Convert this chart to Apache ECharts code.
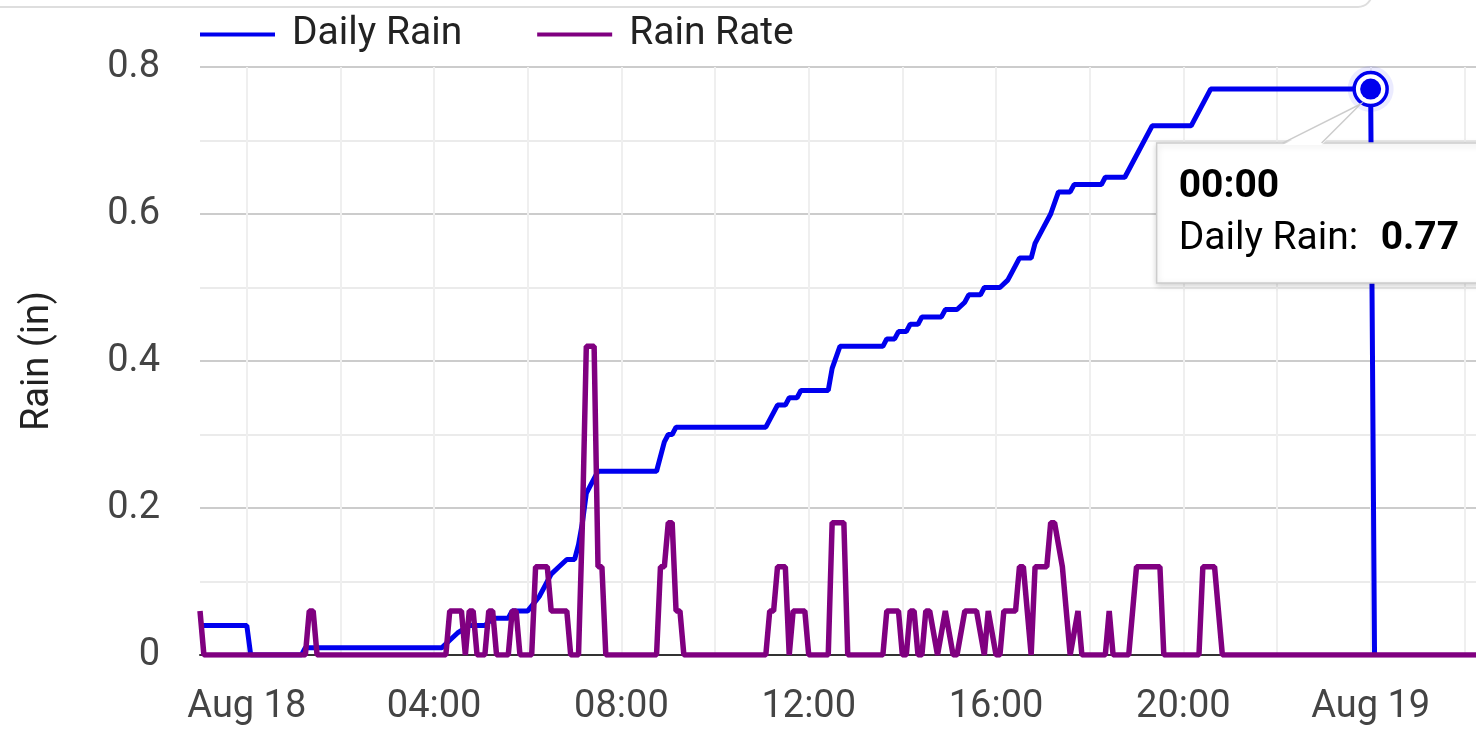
<!DOCTYPE html>
<html><head><meta charset="utf-8">
<script src="https://cdn.jsdelivr.net/npm/echarts@6/dist/echarts.min.js"></script>
<style>html,body{margin:0;padding:0;background:#fff}#c{width:1476px;height:732px}</style>
</head><body><div id="c"></div>
<script>
const monthNames = ['Jan','Feb','Mar','Apr','May','Jun','Jul','Aug','Sep','Oct','Nov','Dec'];
const seriesNames = ['Daily Rain', 'Rain Rate'];
const axisRange = ['2024-08-17 23:00', '2024-08-19 02:15'];

const dailyRainTimes = [
  '2024-08-17 23:00','2024-08-18 00:00','2024-08-18 00:05','2024-08-18 01:10','2024-08-18 01:15',
  '2024-08-18 04:10','2024-08-18 04:20','2024-08-18 04:30','2024-08-18 04:45','2024-08-18 05:05',
  '2024-08-18 05:15','2024-08-18 05:35','2024-08-18 05:40','2024-08-18 06:00','2024-08-18 06:15',
  '2024-08-18 06:25','2024-08-18 06:30','2024-08-18 06:40','2024-08-18 06:50','2024-08-18 07:00',
  '2024-08-18 07:05','2024-08-18 07:10','2024-08-18 07:15','2024-08-18 07:20','2024-08-18 07:30',
  '2024-08-18 08:45','2024-08-18 08:55','2024-08-18 09:00','2024-08-18 09:05','2024-08-18 09:10',
  '2024-08-18 11:05','2024-08-18 11:20','2024-08-18 11:30','2024-08-18 11:35','2024-08-18 11:45',
  '2024-08-18 11:50','2024-08-18 12:25','2024-08-18 12:30','2024-08-18 12:40','2024-08-18 13:35',
  '2024-08-18 13:40','2024-08-18 13:50','2024-08-18 13:55','2024-08-18 14:05','2024-08-18 14:10',
  '2024-08-18 14:20','2024-08-18 14:25','2024-08-18 14:50','2024-08-18 14:55','2024-08-18 15:10',
  '2024-08-18 15:20','2024-08-18 15:25','2024-08-18 15:40','2024-08-18 15:45','2024-08-18 16:05',
  '2024-08-18 16:15','2024-08-18 16:20','2024-08-18 16:30','2024-08-18 16:45','2024-08-18 16:50',
  '2024-08-18 17:00','2024-08-18 17:10','2024-08-18 17:20','2024-08-18 17:35','2024-08-18 17:40',
  '2024-08-18 18:15','2024-08-18 18:20','2024-08-18 18:45','2024-08-18 19:20','2024-08-18 20:10',
  '2024-08-18 20:35','2024-08-19 00:00','2024-08-19 00:05'
];
const dailyRainValues = [
  0.04,0.04,0,0,0.01,
  0.01,0.02,0.03,0.04,0.04,
  0.05,0.05,0.06,0.06,0.08,
  0.10,0.11,0.12,0.13,0.13,
  0.15,0.18,0.22,0.23,0.25,
  0.25,0.29,0.30,0.30,0.31,
  0.31,0.34,0.34,0.35,0.35,
  0.36,0.36,0.39,0.42,0.42,
  0.43,0.43,0.44,0.44,0.45,
  0.45,0.46,0.46,0.47,0.47,
  0.48,0.49,0.49,0.50,0.50,
  0.51,0.52,0.54,0.54,0.56,
  0.58,0.60,0.63,0.63,0.64,
  0.64,0.65,0.65,0.72,0.72,
  0.77,0.77,0
];

const rainRateTimes = [
  '2024-08-17 23:00','2024-08-17 23:05','2024-08-18 01:15','2024-08-18 01:20','2024-08-18 01:25','2024-08-18 01:30',
  '2024-08-18 04:15','2024-08-18 04:20','2024-08-18 04:35','2024-08-18 04:40','2024-08-18 04:45','2024-08-18 04:50',
  '2024-08-18 04:55','2024-08-18 05:05','2024-08-18 05:10','2024-08-18 05:15','2024-08-18 05:20','2024-08-18 05:35',
  '2024-08-18 05:40','2024-08-18 05:45','2024-08-18 05:50','2024-08-18 06:05','2024-08-18 06:10','2024-08-18 06:25',
  '2024-08-18 06:30','2024-08-18 06:50','2024-08-18 06:55','2024-08-18 07:05','2024-08-18 07:10','2024-08-18 07:15',
  '2024-08-18 07:25','2024-08-18 07:30','2024-08-18 07:35','2024-08-18 07:40','2024-08-18 08:45','2024-08-18 08:50',
  '2024-08-18 08:55','2024-08-18 09:00','2024-08-18 09:05','2024-08-18 09:10','2024-08-18 09:15','2024-08-18 09:20',
  '2024-08-18 11:05','2024-08-18 11:10','2024-08-18 11:15','2024-08-18 11:20','2024-08-18 11:30','2024-08-18 11:35',
  '2024-08-18 11:40','2024-08-18 11:55','2024-08-18 12:00','2024-08-18 12:25','2024-08-18 12:30','2024-08-18 12:45',
  '2024-08-18 12:50','2024-08-18 13:35','2024-08-18 13:40','2024-08-18 13:55','2024-08-18 14:00','2024-08-18 14:05',
  '2024-08-18 14:10','2024-08-18 14:15','2024-08-18 14:20','2024-08-18 14:25','2024-08-18 14:30','2024-08-18 14:35',
  '2024-08-18 14:45','2024-08-18 14:55','2024-08-18 15:05','2024-08-18 15:10','2024-08-18 15:20','2024-08-18 15:35',
  '2024-08-18 15:45','2024-08-18 15:50','2024-08-18 16:00','2024-08-18 16:05','2024-08-18 16:10','2024-08-18 16:25',
  '2024-08-18 16:30','2024-08-18 16:35','2024-08-18 16:45','2024-08-18 16:50','2024-08-18 17:05','2024-08-18 17:10',
  '2024-08-18 17:15','2024-08-18 17:25','2024-08-18 17:35','2024-08-18 17:45','2024-08-18 17:50','2024-08-18 18:20',
  '2024-08-18 18:25','2024-08-18 18:30','2024-08-18 18:50','2024-08-18 18:55','2024-08-18 19:00','2024-08-18 19:30',
  '2024-08-18 19:35','2024-08-18 20:20','2024-08-18 20:25','2024-08-18 20:40','2024-08-18 20:45','2024-08-18 20:50',
  '2024-08-19 02:15'
];
const rainRateValues = [
  0.06,0,0,0.06,0.06,0,
  0,0.06,0.06,0,0.06,0.06,
  0,0,0.06,0.06,0,0,
  0.06,0.06,0,0,0.12,0.12,
  0.06,0.06,0,0,0.18,0.42,
  0.42,0.12,0.12,0,0,0.12,
  0.12,0.18,0.18,0.06,0.06,0,
  0,0.06,0.06,0.12,0.12,0,
  0.06,0.06,0,0,0.18,0.18,
  0,0,0.06,0.06,0,0,
  0.06,0.06,0,0,0.06,0.06,
  0,0.06,0,0,0.06,0.06,
  0,0.06,0,0,0.06,0.06,
  0.12,0.12,0,0.12,0.12,0.18,
  0.18,0.12,0,0.06,0,0,
  0.06,0,0,0.06,0.12,0.12,
  0,0,0.12,0.12,0.06,0,
  0
];

const BLUE = '#0000ee', PURPLE = '#800080';
const FONT = 'Roboto';

function pad2(n){ return (n < 10 ? '0' : '') + n; }
function fmtX(val){
  const d = new Date(val);
  const h = d.getHours(), m = d.getMinutes();
  if (m !== 0 || h % 4 !== 0) return '';
  if (h === 0) return monthNames[d.getMonth()] + ' ' + d.getDate();
  return pad2(h) + ':00';
}

const chart = echarts.init(document.getElementById('c'));
chart.setOption({
  animation: false,
  textStyle: { fontFamily: FONT },
  legend: {
    data: seriesNames, left: 195, top: 10, icon: 'rect',
    itemWidth: 75, itemHeight: 4, itemGap: 75,
    textStyle: { fontSize: 39, color: '#222', fontFamily: FONT, padding: [0, 0, 0, 12] }
  },
  grid: { left: 200, right: 0, top: 67, bottom: 77, outerBoundsMode: 'none', containLabel: false },
  xAxis: {
    type: 'time', min: axisRange[0], max: axisRange[1], splitNumber: 10,
    axisLine: { lineStyle: { color: '#333', width: 2 } },
    axisTick: { show: false },
    axisLabel: { formatter: fmtX, fontSize: 38, color: '#444', margin: 33, fontFamily: FONT, hideOverlap: false },
    splitLine: { show: true, showMinLine: false, showMaxLine: false, lineStyle: { color: '#efefef', width: 2 } }
  },
  yAxis: {
    type: 'value', min: 0, max: 0.8, interval: 0.2,
    name: 'Rain (in)', nameLocation: 'middle', nameGap: 143,
    nameTextStyle: { fontSize: 38, color: '#222', fontFamily: FONT },
    axisLine: { show: false }, axisTick: { show: false },
    axisLabel: { fontSize: 38, color: '#444', margin: 40, fontFamily: FONT },
    splitLine: { lineStyle: { color: '#cccccc', width: 2 } },
    minorTick: { show: false, splitNumber: 2 },
    minorSplitLine: { show: true, lineStyle: { color: '#ebebeb', width: 2 } }
  },
  series: [
    {
      name: seriesNames[0], type: 'line', showSymbol: false, symbol: 'none', z: 2,
      data: dailyRainTimes.map((t, i) => [t, dailyRainValues[i]]),
      lineStyle: { color: BLUE, width: 5 }, itemStyle: { color: BLUE }
    },
    {
      name: seriesNames[1], type: 'line', showSymbol: false, symbol: 'none', z: 3,
      data: rainRateTimes.map((t, i) => [t, rainRateValues[i]]),
      lineStyle: { color: PURPLE, width: 5.5 }, itemStyle: { color: PURPLE }
    }
  ]
});

// highlighted point + tooltip (positioned from the data point via the chart's scales)
const tipIdx = dailyRainTimes.length - 2;
const tipTime = dailyRainTimes[tipIdx], tipValue = dailyRainValues[tipIdx];
const p = chart.convertToPixel({ gridIndex: 0 }, [tipTime, tipValue]);
const px = p[0], py = p[1];
const tipDate = new Date(echarts.time.parse(tipTime));
const tipTitle = pad2(tipDate.getHours()) + ':' + pad2(tipDate.getMinutes());
const boxTop = py + 54;

chart.setOption({
  graphic: [
    { type: 'rect', silent: true, z: 100,
      shape: { x: -20, y: -40, width: 1392, height: 47, r: 14 },
      style: { fill: 'none', stroke: '#dedede', lineWidth: 2 } },
    { type: 'circle', z: 100, shape: { cx: px, cy: py, r: 23 }, style: { fill: 'rgba(0,0,255,0.08)' } },
    { type: 'circle', z: 101, shape: { cx: px, cy: py, r: 16.5 }, style: { fill: '#fff', stroke: BLUE, lineWidth: 3.5 } },
    { type: 'circle', z: 102, shape: { cx: px, cy: py, r: 10.5 }, style: { fill: BLUE } },
    { type: 'rect', z: 110, shape: { x: px - 214, y: boxTop, width: 340, height: 140 },
      style: { fill: '#fff', stroke: '#cccccc', lineWidth: 1.5, shadowBlur: 6, shadowColor: 'rgba(0,0,0,0.18)', shadowOffsetY: 2 } },
    { type: 'polygon', z: 111, shape: { points: [[px - 88, boxTop + 2], [px - 10, py + 15], [px - 49, boxTop + 2]] },
      style: { fill: '#fff' } },
    { type: 'polyline', z: 112, shape: { points: [[px - 88, boxTop], [px - 10, py + 15], [px - 49, boxTop]] },
      style: { fill: 'none', stroke: '#cccccc', lineWidth: 1.5 } },
    { type: 'text', z: 113, x: px - 192, y: py + 98,
      style: { text: tipTitle, fontSize: 39, fontWeight: 'bold', fill: '#000', fontFamily: FONT, verticalAlign: 'middle' } },
    { type: 'text', z: 113, x: px - 192, y: py + 150,
      style: { text: seriesNames[0] + ':', fontSize: 39, fill: '#000', fontFamily: FONT, verticalAlign: 'middle' } },
    { type: 'text', z: 113, x: px + 10, y: py + 150,
      style: { text: String(tipValue), fontSize: 39, fontWeight: 'bold', fill: '#000', fontFamily: FONT, verticalAlign: 'middle' } }
  ]
});
</script>
</body></html>
